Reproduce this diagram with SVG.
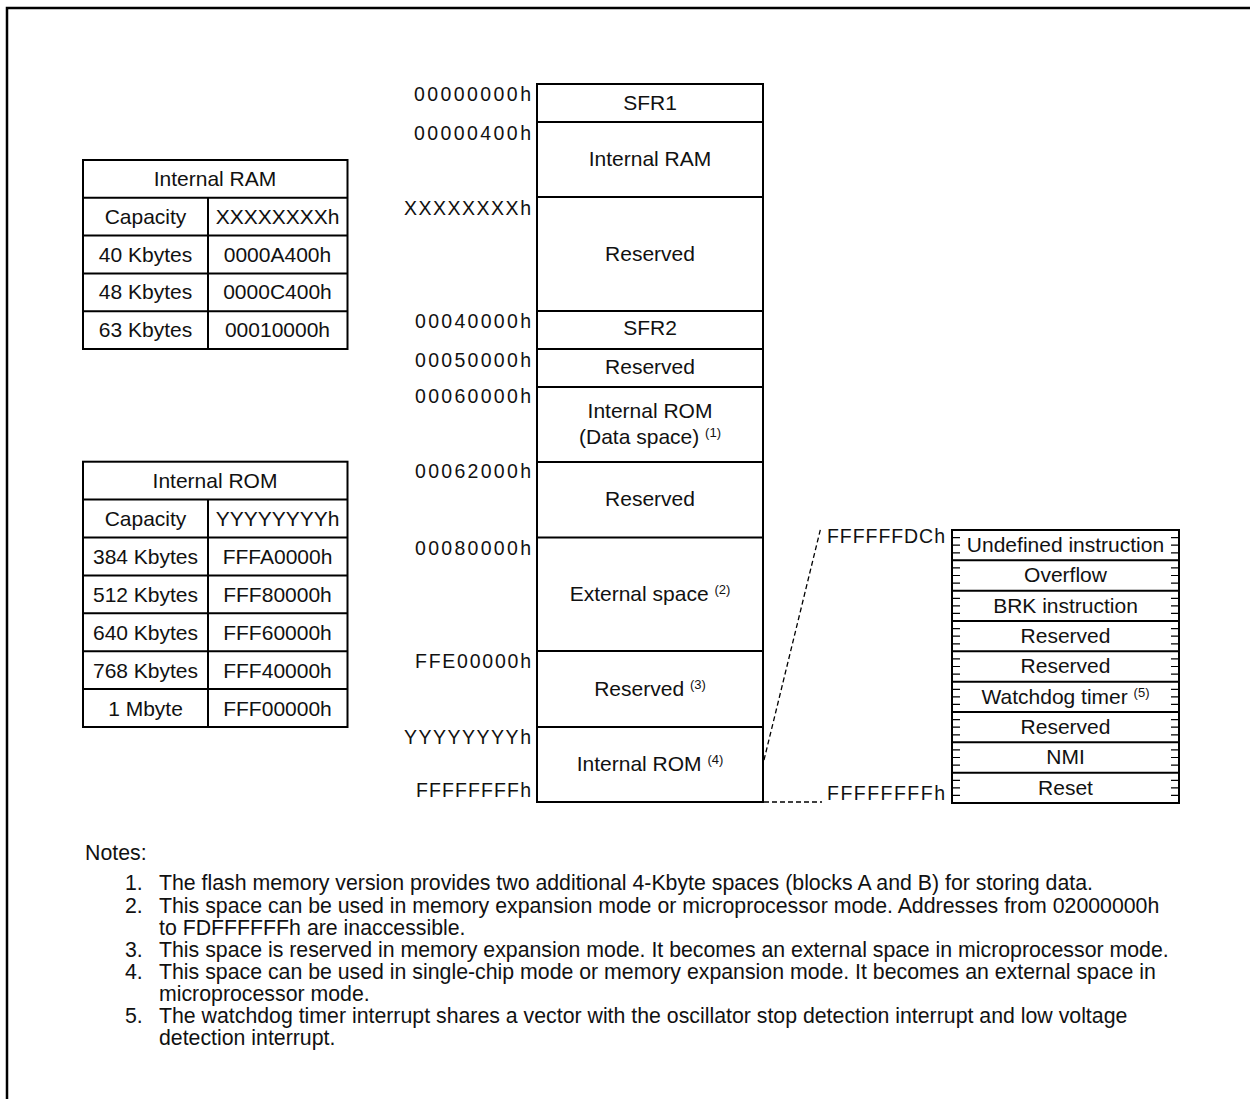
<svg xmlns="http://www.w3.org/2000/svg" width="1250" height="1099" viewBox="0 0 1250 1099">
<style>
text{font-family:"Liberation Sans",Arial,sans-serif;fill:#111}
.c{font-size:21px;text-anchor:middle}
.a{font-size:19.5px;text-anchor:end}
.al{font-size:19.5px}
.n{font-size:21.3px}
.s{font-size:13px}
.ln{fill:none;stroke:#000;stroke-width:2}
.tk{fill:none;stroke:#000;stroke-width:1.2}
.dash{fill:none;stroke:#000;stroke-width:1.3;stroke-dasharray:5 3}
</style>
<rect x="0" y="0" width="1250" height="1099" fill="#fff"/>
<path d="M7,1099 V8 H1250" fill="none" stroke="#000" stroke-width="2.5"/>

<g id="ram-table">
<rect class="ln" x="83" y="160" width="264.5" height="189"/>
<path class="ln" d="M83,197.8H347.5M83,235.6H347.5M83,273.4H347.5M83,311.2H347.5M208,197.8V349"/>
<text class="c" x="215" y="186">Internal RAM</text>
<text class="c" x="145.5" y="224">Capacity</text>
<text class="c" x="277.5" y="224">XXXXXXXXh</text>
<text class="c" x="145.5" y="261.5">40 Kbytes</text>
<text class="c" x="277.5" y="261.5">0000A400h</text>
<text class="c" x="145.5" y="299.3">48 Kbytes</text>
<text class="c" x="277.5" y="299.3">0000C400h</text>
<text class="c" x="145.5" y="337">63 Kbytes</text>
<text class="c" x="277.5" y="337">00010000h</text>
</g>

<g id="rom-table">
<rect class="ln" x="83" y="461.7" width="264.5" height="265.3"/>
<path class="ln" d="M83,499.6H347.5M83,537.5H347.5M83,575.4H347.5M83,613.3H347.5M83,651.2H347.5M83,689.1H347.5M208,499.6V727"/>
<text class="c" x="215" y="488">Internal ROM</text>
<text class="c" x="145.5" y="526">Capacity</text>
<text class="c" x="277.5" y="526">YYYYYYYYh</text>
<text class="c" x="145.5" y="564">384 Kbytes</text>
<text class="c" x="277.5" y="564">FFFA0000h</text>
<text class="c" x="145.5" y="602">512 Kbytes</text>
<text class="c" x="277.5" y="602">FFF80000h</text>
<text class="c" x="145.5" y="640">640 Kbytes</text>
<text class="c" x="277.5" y="640">FFF60000h</text>
<text class="c" x="145.5" y="677.5">768 Kbytes</text>
<text class="c" x="277.5" y="677.5">FFF40000h</text>
<text class="c" x="145.5" y="715.5">1 Mbyte</text>
<text class="c" x="277.5" y="715.5">FFF00000h</text>
</g>

<g id="memory-map">
<rect class="ln" x="537" y="84" width="226" height="718"/>
<path class="ln" d="M537,122H763M537,197H763M537,311H763M537,349H763M537,387H763M537,462H763M537,537.5H763M537,651H763M537,727H763"/>
<text class="c" x="650" y="110">SFR1</text>
<text class="c" x="650" y="166">Internal RAM</text>
<text class="c" x="650" y="261">Reserved</text>
<text class="c" x="650" y="335">SFR2</text>
<text class="c" x="650" y="374">Reserved</text>
<text class="c" x="650" y="418">Internal ROM</text>
<text class="c" x="650" y="444">(Data space) <tspan class="s" dy="-7">(1)</tspan></text>
<text class="c" x="650" y="506">Reserved</text>
<text class="c" x="650" y="601">External space <tspan class="s" dy="-7">(2)</tspan></text>
<text class="c" x="650" y="696">Reserved <tspan class="s" dy="-7">(3)</tspan></text>
<text class="c" x="650" y="771">Internal ROM <tspan class="s" dy="-7">(4)</tspan></text>
</g>

<g id="addresses">
<text class="a" x="531" y="101" textLength="117" lengthAdjust="spacing">00000000h</text>
<text class="a" x="531" y="140" textLength="117" lengthAdjust="spacing">00000400h</text>
<text class="a" x="531" y="215" textLength="127" lengthAdjust="spacing">XXXXXXXXh</text>
<text class="a" x="531" y="328" textLength="116" lengthAdjust="spacing">00040000h</text>
<text class="a" x="531" y="367" textLength="116" lengthAdjust="spacing">00050000h</text>
<text class="a" x="531" y="403" textLength="116" lengthAdjust="spacing">00060000h</text>
<text class="a" x="531" y="478" textLength="116" lengthAdjust="spacing">00062000h</text>
<text class="a" x="531" y="555" textLength="116" lengthAdjust="spacing">00080000h</text>
<text class="a" x="531" y="668" textLength="116" lengthAdjust="spacing">FFE00000h</text>
<text class="a" x="531" y="744" textLength="127" lengthAdjust="spacing">YYYYYYYYh</text>
<text class="a" x="531" y="797" textLength="115" lengthAdjust="spacing">FFFFFFFFh</text>
<text class="al" x="827" y="543" textLength="118" lengthAdjust="spacing">FFFFFFDCh</text>
<text class="al" x="827" y="800" textLength="118" lengthAdjust="spacing">FFFFFFFFh</text>
</g>

<g id="connectors">
<path class="dash" d="M764,760 L821,527"/>
<path class="dash" d="M764,802 H822"/>
</g>

<g id="vector-table">
<rect class="ln" x="952" y="530" width="227" height="273"/>
<path class="ln" d="M952,560.3H1179M952,590.7H1179M952,621H1179M952,651.3H1179M952,681.7H1179M952,712H1179M952,742.3H1179M952,772.7H1179"/>
<path class="tk" d="M952,537.6h8M952,545.2h8M952,552.8h8M952,567.9h8M952,575.5h8M952,583.1h8M952,598.3h8M952,605.8h8M952,613.4h8M952,628.6h8M952,636.2h8M952,643.8h8M952,658.9h8M952,666.5h8M952,674.1h8M952,689.3h8M952,696.8h8M952,704.4h8M952,719.6h8M952,727.2h8M952,734.8h8M952,749.9h8M952,757.5h8M952,765.1h8M952,780.3h8M952,787.8h8M952,795.4h8
M1171,537.6h8M1171,545.2h8M1171,552.8h8M1171,567.9h8M1171,575.5h8M1171,583.1h8M1171,598.3h8M1171,605.8h8M1171,613.4h8M1171,628.6h8M1171,636.2h8M1171,643.8h8M1171,658.9h8M1171,666.5h8M1171,674.1h8M1171,689.3h8M1171,696.8h8M1171,704.4h8M1171,719.6h8M1171,727.2h8M1171,734.8h8M1171,749.9h8M1171,757.5h8M1171,765.1h8M1171,780.3h8M1171,787.8h8M1171,795.4h8"/>
<text class="c" x="1065.5" y="552">Undefined instruction</text>
<text class="c" x="1065.5" y="582.3">Overflow</text>
<text class="c" x="1065.5" y="612.7">BRK instruction</text>
<text class="c" x="1065.5" y="643">Reserved</text>
<text class="c" x="1065.5" y="673.3">Reserved</text>
<text class="c" x="1065.5" y="703.7">Watchdog timer <tspan class="s" dy="-7">(5)</tspan></text>
<text class="c" x="1065.5" y="734">Reserved</text>
<text class="c" x="1065.5" y="764.3">NMI</text>
<text class="c" x="1065.5" y="794.7">Reset</text>
</g>

<g id="notes">
<text class="n" x="85" y="860">Notes:</text>
<text class="n" x="125" y="890">1.</text>
<text class="n" x="159" y="890">The flash memory version provides two additional 4-Kbyte spaces (blocks A and B) for storing data.</text>
<text class="n" x="125" y="913">2.</text>
<text class="n" x="159" y="913">This space can be used in memory expansion mode or microprocessor mode. Addresses from 02000000h</text>
<text class="n" x="159" y="935">to FDFFFFFFh are inaccessible.</text>
<text class="n" x="125" y="957">3.</text>
<text class="n" x="159" y="957">This space is reserved in memory expansion mode. It becomes an external space in microprocessor mode.</text>
<text class="n" x="125" y="979">4.</text>
<text class="n" x="159" y="979">This space can be used in single-chip mode or memory expansion mode. It becomes an external space in</text>
<text class="n" x="159" y="1001">microprocessor mode.</text>
<text class="n" x="125" y="1023">5.</text>
<text class="n" x="159" y="1023">The watchdog timer interrupt shares a vector with the oscillator stop detection interrupt and low voltage</text>
<text class="n" x="159" y="1045">detection interrupt.</text>
</g>
</svg>
